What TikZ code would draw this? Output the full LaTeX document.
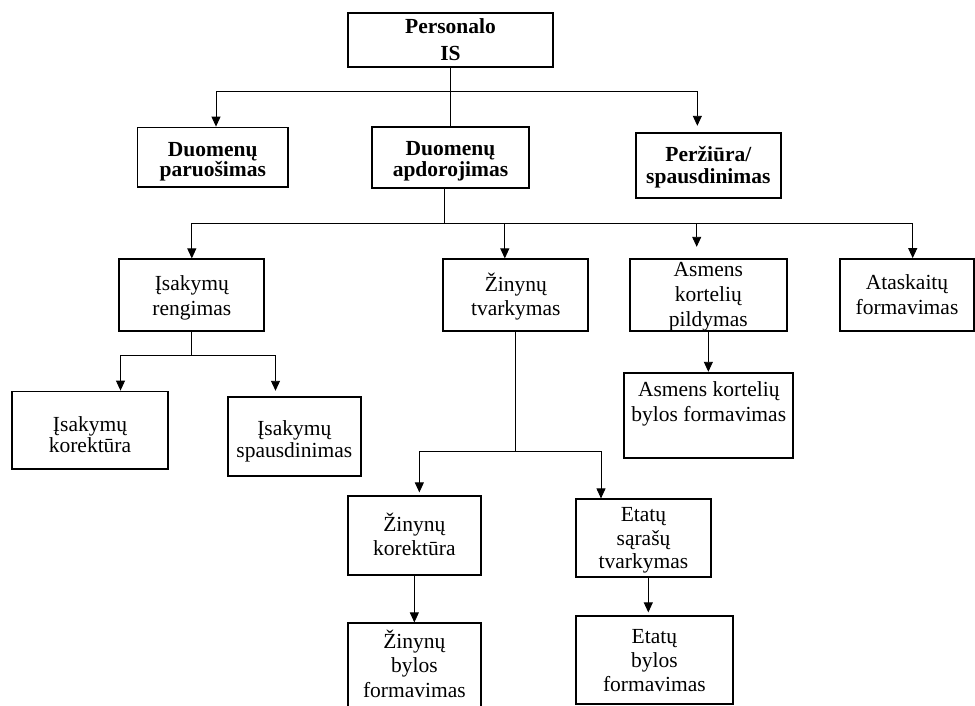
\documentclass[tikz,border=0pt]{standalone}
\usepackage{fontspec}
\setmainfont{Liberation Serif}
\usetikzlibrary{arrows.meta}
\begin{document}
\begin{tikzpicture}[x=1pt,y=-1pt,
  box/.style={draw, line width=1.8pt, inner sep=0pt, fill=none},
  txt/.style={inner sep=0pt, align=center, anchor=base,
    font={\fontsize{21.5}{#1}\selectfont\lineskiplimit=-50pt}},
  btxt/.style={txt=#1, font={\fontsize{21.5}{#1}\selectfont\lineskiplimit=-50pt\bfseries}},
  conn/.style={line width=0.9pt},
  arr/.style={conn, -{Triangle[width=9pt,length=10pt]}}]
\useasboundingbox (0,0) rectangle (975,705);
\clip (0,0) rectangle (975,705);

% Text nodes are placed by the baseline of their last line.

% ---- top level ----
\node[box, minimum width=205pt, minimum height=54pt]   (pers) at (450.5,40) {};
\node[btxt=26.7] (tpers) at (450.5,60) {Personalo\\IS};

\node[box, minimum width=150.5pt, minimum height=59.5pt] (prep) at (212.75,157.25) {};
\node[btxt=20.5] (tprep) at (212.75,176.5) {Duomenų\\paruošimas};

\node[box, minimum width=157pt, minimum height=61pt] (proc) at (450.5,157.5) {};
\node[btxt=21] (tproc) at (450.5,176) {Duomenų\\apdorojimas};

\node[box, minimum width=145.3pt, minimum height=65.6pt] (view) at (708.35,165.5) {};
\node[btxt=21.6] (tview) at (708.35,183.3) {Peržiūra/\\spausdinimas};

% ---- processing branch ----
\node[box, minimum width=145pt, minimum height=71.7pt] (isak) at (191.8,295.15) {};
\node[txt=25] (tisak) at (191.8,315) {Įsakymų\\rengimas};

\node[box, minimum width=145pt, minimum height=71.7pt] (zt) at (515.8,295.15) {};
\node[txt=23.5] (tzt) at (515.8,315.2) {Žinynų\\tvarkymas};

\node[box, minimum width=156.7pt, minimum height=71.7pt] (akp) at (708.35,295.15) {};
\node[txt=25] (takp) at (708.35,326) {Asmens\\kortelių\\pildymas};

\node[box, minimum width=134pt, minimum height=72pt] (ata) at (907,295) {};
\node[txt=25] (tata) at (907,314.3) {Ataskaitų\\formavimas};

\node[box, minimum width=169pt, minimum height=85.6pt] (akb) at (708.8,415.5) {};
\node[txt=25] (takb) at (708.8,421.7) {Asmens kortelių\\bylos formavimas};

% ---- orders ----
\node[box, minimum width=156pt, minimum height=77.8pt] (ik) at (90,430.4) {};
\node[txt=21.6] (tik) at (90,452.8) {Įsakymų\\korektūra};

\node[box, minimum width=133.3pt, minimum height=79.3pt] (isp) at (294.35,436.35) {};
\node[txt=22.3] (tisp) at (294.35,457.3) {Įsakymų\\spausdinimas};

% ---- reference books ----
\node[box, minimum width=133.3pt, minimum height=79pt] (zk) at (414.35,535.5) {};
\node[txt=23.3] (tzk) at (414.35,555) {Žinynų\\korektūra};

\node[box, minimum width=135pt, minimum height=78pt] (ess) at (643.5,538.3) {};
\node[txt=23.3] (tess) at (643.5,568.3) {Etatų\\sąrašų\\tvarkymas};

\node[box, minimum width=133.3pt, minimum height=106.7pt] (zbf) at (414.35,676.65) {};
\node[txt=24.5] (tzbf) at (414.35,697) {Žinynų\\bylos\\formavimas};

\node[box, minimum width=156.7pt, minimum height=87.4pt] (ebf) at (654.35,660) {};
\node[txt=24.2] (tebf) at (654.35,691.7) {Etatų\\bylos\\formavimas};

% ---- connectors ----
\coordinate (j1) at (450.5,91);
\draw[conn] (pers) -- (proc);
\draw[arr] (j1) -| ([xshift=3.25pt]prep.north);
\draw[arr, shorten >=6pt] (j1) -| ([xshift=-11pt]view.north);

\coordinate (j2) at (444,223.3);
\draw[conn] ([xshift=-6.5pt]proc.south) -- (j2);
\draw[arr] (j2) -| (isak.north);
\draw[arr] (j2) -| ([xshift=-11pt]zt.north);
\draw[arr, shorten >=11.6pt] (j2) -| ([xshift=-11.65pt]akp.north);
\draw[arr] (j2) -| ([xshift=5.7pt]ata.north);
\draw[arr] (akp.south) -- (akp.south |- akb.north);

\coordinate (j3) at (191.8,355);
\draw[conn] (isak.south) -- (j3);
\draw[arr] (j3) -| ([xshift=30.5pt]ik.north);
\draw[arr, shorten >=5pt] (j3) -| ([xshift=-18.85pt]isp.north);

\coordinate (j4) at (515.8,451);
\draw[conn] (zt.south) -- (j4);
\draw[arr, shorten >=2.7pt] (j4) -| ([xshift=5pt]zk.north);
\draw[arr] (j4) -| ([xshift=-42.5pt]ess.north);
\draw[arr] (zk.south) -- (zk.south |- zbf.north);
\draw[arr, shorten >=3pt] ([xshift=4.8pt]ess.south) -- ([xshift=4.8pt]ess.south |- ebf.north);
\end{tikzpicture}
\end{document}
